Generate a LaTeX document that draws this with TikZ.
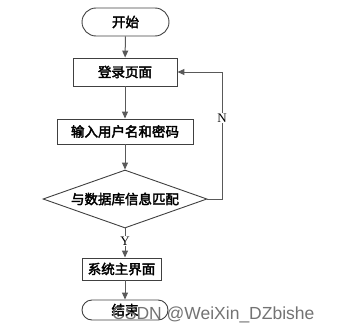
\documentclass[tikz,border=0pt]{standalone}
\usepackage{fontspec}
\setmainfont{Liberation Serif}
\newfontfamily\cjk[AutoFakeBold=2.6]{Noto Sans CJK SC}
\newfontfamily\wmfont{Liberation Sans}
\usetikzlibrary{arrows.meta,shapes.geometric,shapes.misc,positioning}

\begin{document}
\begin{tikzpicture}[x=1pt, y=-1pt,
    term/.style={draw=black!75, line width=0.9pt, rounded rectangle, inner sep=0pt, font=\cjk\bfseries\fontsize{13.5}{16}\selectfont},
    proc/.style={draw=black!75, line width=0.9pt, rectangle, inner sep=0pt, font=\cjk\bfseries\fontsize{13.5}{16}\selectfont},
    decide/.style={draw=black!75, line width=0.9pt, diamond, aspect=2.8, inner sep=0pt, font=\cjk\bfseries\fontsize{13.5}{16}\selectfont},
    arr/.style={-{Triangle[length=7pt,width=6pt]}, black!65, line width=1pt},
    lbl/.style={fill=white, inner sep=1pt, font=\fontsize{13}{15}\selectfont}
]
\useasboundingbox (0,0) rectangle (340,332);

\node[term, minimum width=87pt, minimum height=28pt] (start) at (125.5,22) {开始};
\node[proc, minimum width=104pt, minimum height=28pt] (login) at (125,72) {登录页面};
\node[proc, minimum width=136pt, minimum height=25pt] (input) at (125,131.5) {输入用户名和密码};
\node[decide, minimum width=164pt, minimum height=58pt] (match) at (125,199) {与数据库信息匹配};
\node[proc, minimum width=79pt, minimum height=22pt] (home) at (121.5,269) {系统主界面};
\node[term, minimum width=86pt, minimum height=20pt] (stop) at (125,310) {结束};
\coordinate (back) at (222,199);

\draw[arr] (start) -- (login);
\draw[arr] (login) -- (input);
\draw[arr] (input) -- (match);
\draw[arr] (match.south) -- (match.south |- home.north);
\draw[arr] (home.south -| stop.north) -- (stop.north);
\draw[arr] (match.east) -- (back) |- (login.east);

\node[lbl] (no) at (222,118) {N};
\node[lbl] (yes) at (125,241) {Y};

% watermark
\node[anchor=base west, inner sep=0pt, text=black!55, font=\wmfont\fontsize{17.5}{20}\selectfont] (mark) at (112,319) {CSDN @WeiXin\_DZbishe};
\end{tikzpicture}
\end{document}
